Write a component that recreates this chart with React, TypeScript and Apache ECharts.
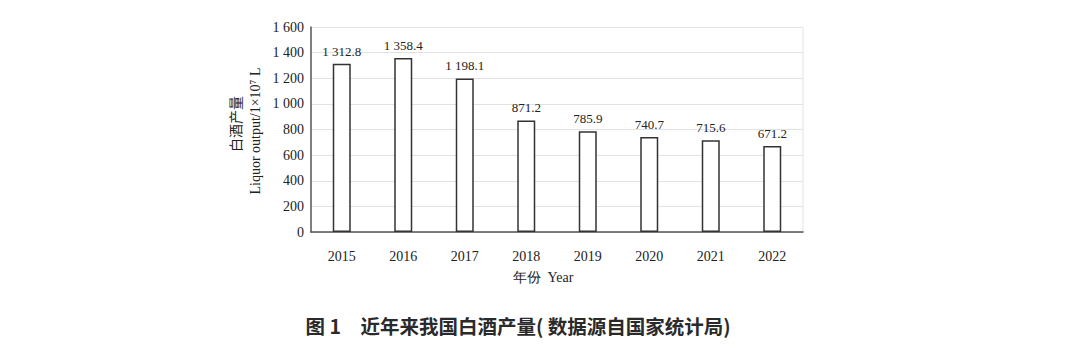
import React, { useEffect, useRef } from "react";
import * as echarts from "echarts";

const years = ["2015", "2016", "2017", "2018", "2019", "2020", "2021", "2022"];
const output = [1312.8, 1358.4, 1198.1, 871.2, 785.9, 740.7, 715.6, 671.2];
const yTicks = { min: 0, max: 1600, interval: 200 };

const serif = "'Liberation Serif', 'Times New Roman', serif";
const cjk = "'Noto Sans CJK SC', sans-serif";

function fmt(v: number, decimals = 0): string {
  const s = v.toFixed(decimals);
  const [intPart, dec] = s.split(".");
  const withSpace = intPart.length > 3 ? intPart.slice(0, intPart.length - 3) + " " + intPart.slice(-3) : intPart;
  return dec !== undefined ? withSpace + "." + dec : withSpace;
}

export default function App() {
  const ref = useRef<HTMLDivElement>(null);
  useEffect(() => {
    if (!ref.current) return;
    const chart = echarts.init(ref.current, undefined, { renderer: "svg" });
    chart.setOption({
      animation: false,
      backgroundColor: "#ffffff",
      grid: { left: 311, right: 277, top: 27, bottom: 112, containLabel: false },
      xAxis: {
        type: "category",
        data: years,
        axisLine: { show: true, lineStyle: { color: "#555", width: 1.5 } },
        axisTick: { show: false },
        axisLabel: { color: "#222", fontFamily: serif, fontSize: 14, margin: 17 },
        splitLine: { show: false },
      },
      yAxis: {
        type: "value",
        min: yTicks.min,
        max: yTicks.max,
        interval: yTicks.interval,
        axisLine: { show: true, lineStyle: { color: "#555", width: 1.5 } },
        axisTick: { show: false },
        axisLabel: {
          color: "#222",
          fontFamily: serif,
          fontSize: 14,
          margin: 7,
          formatter: (v: number) => fmt(v),
        },
        splitLine: { show: true, lineStyle: { color: "#e2e2e2", width: 1 } },
      },
      graphic: [
        {
          type: "line",
          shape: { x1: 803, y1: 27, x2: 803, y2: 232 },
          style: { stroke: "#e2e2e2", lineWidth: 1 },
        },
        {
          type: "text",
          x: 235,
          y: 124,
          rotation: Math.PI / 2,
          style: {
            text: "白酒产量",
            fontFamily: cjk,
            fontSize: 14,
            fill: "#222",
            align: "center",
            verticalAlign: "middle",
          },
        },
        {
          type: "text",
          x: 255,
          y: 131,
          rotation: Math.PI / 2,
          style: {
            text: "Liquor output/1×10⁷ L",
            fontFamily: serif,
            fontSize: 14,
            fill: "#222",
            align: "center",
            verticalAlign: "middle",
          },
        },
        {
          type: "text",
          x: 543,
          y: 277,
          style: {
            text: "年份  Year",
            fontFamily: serif,
            fontSize: 14,
            fill: "#222",
            align: "center",
            verticalAlign: "middle",
          },
        },
        {
          type: "text",
          x: 518,
          y: 325,
          style: {
            text: "图 1　近年来我国白酒产量( 数据源自国家统计局)",
            fontFamily: cjk,
            fontSize: 19.5,
            fontWeight: "bold",
            fill: "#2a2a2a",
            align: "center",
            verticalAlign: "middle",
          },
        },
      ],
      series: [
        {
          type: "bar",
          data: output,
          barWidth: 18,
          itemStyle: { color: "#ffffff", borderColor: "#333", borderWidth: 1.5 },
          label: {
            show: true,
            position: "top",
            distance: 6,
            color: "#222",
            fontFamily: serif,
            fontSize: 13,
            formatter: (p: any) => fmt(p.value, 1),
          },
        },
      ],
    });
    return () => chart.dispose();
  }, []);
  return (
    <div
      ref={ref}
      style={{ position: "fixed", left: 0, top: 0, width: 1080, height: 344, background: "#fff" }}
    />
  );
}
